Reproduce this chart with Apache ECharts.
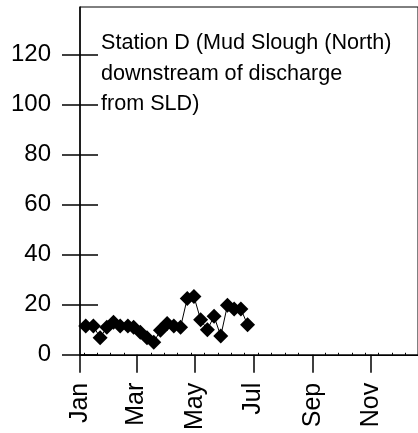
<!DOCTYPE html>
<html>
<head>
<meta charset="utf-8">
<script src="https://cdn.jsdelivr.net/npm/echarts@6/dist/echarts.min.js"></script>
<style>
  html, body { margin: 0; padding: 0; background: #fff; }
  #main { width: 418px; height: 433px; }
</style>
</head>
<body>
<div id="main"></div>
<script>
// sampling day (day of year) and measured value
const days = [6, 14, 21, 28, 35, 42, 50, 56, 63, 70, 77, 84, 91, 98, 105, 112, 119, 126, 133, 140, 147, 154, 161, 168, 175];
const values = [11.5, 11.5, 6.8, 11, 13, 11.5, 11.5, 11, 9, 6.8, 5, 9.8, 12.5, 11.5, 11, 22.5, 23.3, 14, 10, 15.4, 7.5, 19.8, 18.3, 18.3, 12];

const monthTicks = [0, 59, 120, 181, 243, 304];
const monthLabels = ['Jan', 'Mar', 'May', 'Jul', 'Sep', 'Nov'];
const minorTicks = [4, 18, 32, 46, 74, 88, 102, 116, 130, 144, 158, 172, 186, 200, 214, 228, 256, 270, 284, 298, 312, 326, 340];
const yTicks = [0, 20, 40, 60, 80, 100, 120];

const titleText = 'Station D (Mud Slough (North)\ndownstream of discharge\nfrom SLD)';

const font = "'Liberation Sans', Arial, sans-serif";
const chart = echarts.init(document.getElementById('main'));

// the x range runs on past the right edge of the picture (cut at ~day 353)
const yBase = { type: 'value', min: 0, max: 139, position: 'left', splitLine: { show: false } };
const xBase = { type: 'value', min: 0, max: 353, position: 'bottom', splitLine: { show: false } };

chart.setOption({
  animation: false,
  backgroundColor: '#fff',
  title: {
    text: titleText,
    left: 101,
    top: 28,
    padding: 0,
    textStyle: { fontFamily: font, fontSize: 21.6, fontWeight: 'normal', color: '#000', lineHeight: 30.5 }
  },
  grid: {
    left: 80, top: 7, bottom: 77, right: 0,
    show: true, borderColor: '#000', borderWidth: 1, backgroundColor: 'transparent'
  },
  xAxis: [
    Object.assign({}, xBase, {
      axisLine: { lineStyle: { color: '#000', width: 1 } },
      axisTick: { show: true, inside: false, length: 18, customValues: monthTicks, lineStyle: { color: '#000', width: 1.5 } },
      axisLabel: {
        customValues: monthTicks, rotate: 90, margin: 28,
        color: '#000', fontFamily: font, fontSize: 25,
        formatter: v => monthLabels[monthTicks.indexOf(v)]
      }
    }),
    Object.assign({}, xBase, {
      axisLine: { show: false },
      axisTick: { show: true, inside: true, length: 2, customValues: minorTicks, lineStyle: { color: '#000' } },
      axisLabel: { show: false }
    }),
    Object.assign({}, xBase, {
      axisLine: { show: false },
      axisTick: { show: true, inside: false, length: 1, customValues: minorTicks, lineStyle: { color: '#000' } },
      axisLabel: { show: false }
    })
  ],
  yAxis: [
    Object.assign({}, yBase, {
      axisLine: { show: true, lineStyle: { color: '#000', width: 1.5 } },
      axisTick: { show: true, inside: false, length: 18, customValues: yTicks, lineStyle: { color: '#000', width: 1.5 } },
      axisLabel: { customValues: yTicks, margin: 29, color: '#000', fontFamily: font, fontSize: 24 }
    }),
    Object.assign({}, yBase, {
      axisLine: { show: false },
      axisTick: { show: true, inside: true, length: 18, customValues: yTicks, lineStyle: { color: '#000', width: 1.5 } },
      axisLabel: { show: false }
    })
  ],
  series: [{
    type: 'line',
    data: days.map((d, i) => [d, values[i]]),
    symbol: 'diamond',
    symbolSize: 15,
    lineStyle: { color: '#000', width: 1 },
    itemStyle: { color: '#000' }
  }]
});
</script>
</body>
</html>
